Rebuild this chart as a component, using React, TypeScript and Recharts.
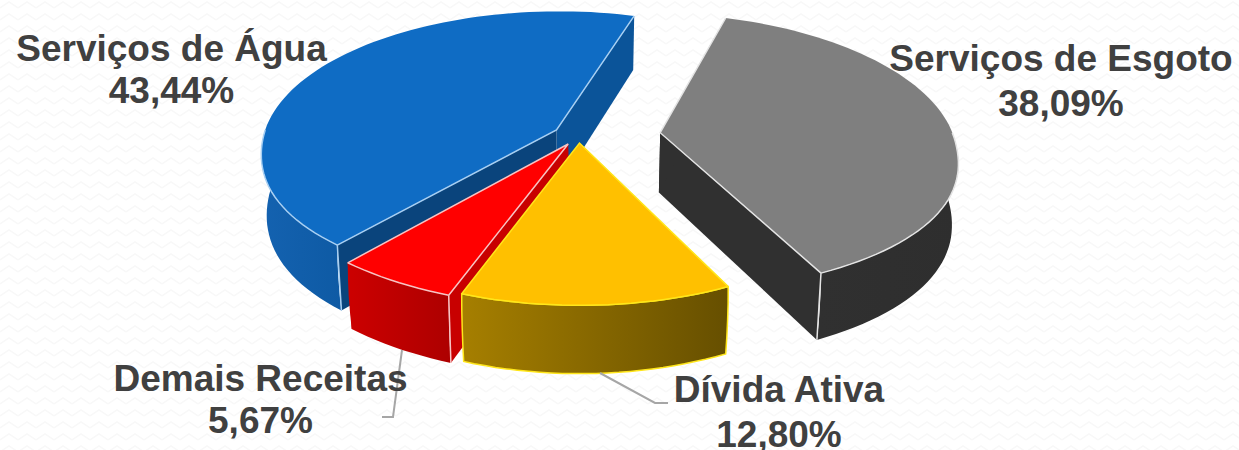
import { PieChart, Pie } from "recharts"

const names = ["Serviços de Água", "Demais Receitas", "Dívida Ativa", "Serviços de Esgoto"]
const values = [43.44, 5.67, 12.8, 38.09]
const data = names.map((name, i) => ({ name, value: values[i] }))

// how far each slice is pulled out of the pie, in radii
const explode = [0.087, 0.07, 0.053, 0.28]

const looks = [
  { top: "#0f6cc4", edge: "#a8cff2", wallA: "#1462b0", wallB: "#0e5aa4", startSide: "#0b5499", endSide: "#0a447c", corner: "end" },
  { top: "#ff0000", edge: "#f7c4c4", wallA: "#cc0000", wallB: "#ad0000", startSide: "#c80000", endSide: "#c80000", corner: "end" },
  { top: "#ffc000", edge: "#ffe61a", wallA: "#a67f00", wallB: "#664f00", startSide: "#a67f00", endSide: "#a67f00", corner: "none" },
  { top: "#7f7f7f", edge: "#e4e4e4", wallA: "#303030", wallB: "#2e2e2e", startSide: "#303030", endSide: "#303030", corner: "start" },
]

const labelSpots = [
  { x: 171.5, y: 60.5, gap: 42 },
  { x: 260.5, y: 391, gap: 42 },
  { x: 779, y: 402, gap: 44.5 },
  { x: 1061, y: 71, gap: 45 },
]
const leaders = [
  null,
  "402,350 393,417 382,417",
  "600,373 655,403 668,403",
  null,
]

const TILT = 0.4676
const PERSPECTIVE = 0.142
const DEPTH = 60
const BULGE = 0.018
const RAD = Math.PI / 180

function Slice(props: any) {
  const { cx, cy, outerRadius: r, startAngle, endAngle, index } = props
  const look = looks[index]
  const mid = ((startAngle + endAngle) / 2) * RAD
  const ox = Math.cos(mid) * explode[index]
  const oy = -Math.sin(mid) * explode[index]

  const project = (x: number, y: number, z: number) => {
    const p = 1 / (1 - PERSPECTIVE * y)
    const front = Math.max(0, Math.min(1, y))
    const bulge = 1 + BULGE * 6.75 * front * front * (1 - front)
    const sx = cx + r * x * p * bulge * (1 - 0.017 * z * z)
    const sy = cy + r * TILT * y * p + DEPTH * Math.pow(p, 0.8) * z
    return `${sx.toFixed(1)},${sy.toFixed(1)}`
  }
  const rim = (deg: number, z: number) => project(ox + Math.cos(deg * RAD), oy - Math.sin(deg * RAD), z)
  const apex = (z: number) => project(ox, oy, z)
  const arc = (from: number, to: number, z: number) => {
    const pts: string[] = []
    const steps = Math.max(2, Math.ceil(Math.abs(to - from) / 2))
    for (let i = 0; i <= steps; i++) pts.push(rim(from + ((to - from) * i) / steps, z))
    return pts
  }

  const wallFrom = Math.max(startAngle, 180)
  const wallTo = Math.min(endAngle, 360)
  // the wall's silhouette bows outward where it leaves the top face
  const bow = [0.25, 0.5, 0.75]
  const wallPts = [
    ...arc(wallFrom, wallTo, 0),
    ...bow.map((z) => rim(wallTo, z)),
    ...arc(wallTo, wallFrom, 1),
    ...[...bow].reverse().map((z) => rim(wallFrom, z)),
  ].join(" ")
  const gradId = `wall-${index}`
  const xs = wallPts.split(" ").map((s) => parseFloat(s))
  const cornerAngle = look.corner === "start" ? startAngle : endAngle
  const isYellow = look.corner === "none"

  return (
    <g>
      <defs>
        <linearGradient id={gradId} gradientUnits="userSpaceOnUse" x1={Math.min(...xs)} x2={Math.max(...xs)} y1={0} y2={0}>
          <stop offset="0%" stopColor={look.wallA} />
          <stop offset="100%" stopColor={look.wallB} />
        </linearGradient>
      </defs>
      <polygon points={[apex(0), rim(startAngle, 0), rim(startAngle, 1), apex(1)].join(" ")} fill={look.startSide} />
      <polygon points={[apex(0), rim(endAngle, 0), rim(endAngle, 1), apex(1)].join(" ")} fill={look.endSide} />
      <polygon
        points={wallPts}
        fill={`url(#${gradId})`}
        stroke={isYellow ? look.edge : "none"}
        strokeWidth={isYellow ? 1.5 : 0}
      />
      <polygon points={[apex(0), ...arc(startAngle, endAngle, 0)].join(" ")} fill={look.top} />
      <polyline points={[rim(startAngle, 0), apex(0), rim(endAngle, 0)].join(" ")} fill="none" stroke={look.edge} strokeWidth={1.5} />
      <polyline points={arc(wallFrom, wallTo, 0).join(" ")} fill="none" stroke={look.edge} strokeWidth={1.5} />
      {look.corner !== "none" && (
        <polyline points={[rim(cornerAngle, 0), rim(cornerAngle, 1)].join(" ")} fill="none" stroke={look.edge} strokeWidth={1.5} />
      )}
    </g>
  )
}

function SliceLabel(props: any) {
  const { index, name, value } = props
  const spot = labelSpots[index]
  const leader = leaders[index]
  const pct = `${Number(value).toFixed(2).replace(".", ",")}%`
  return (
    <g>
      {leader && <polyline points={leader} fill="none" stroke="#a6a6a6" strokeWidth={2} />}
      <text
        textAnchor="middle"
        fill="#404040"
        fontFamily="'Liberation Sans', Arial, sans-serif"
        fontWeight="bold"
        fontSize={37}
      >
        <tspan x={spot.x} y={spot.y}>{name}</tspan>
        <tspan x={spot.x} y={spot.y + spot.gap}>{pct}</tspan>
      </text>
    </g>
  )
}

const backdrop =
  "url(\"data:image/svg+xml,%3Csvg xmlns='http://www.w3.org/2000/svg' width='18' height='12'%3E%3Cpath d='M0 8 L9 2 L18 8' fill='none' stroke='%23f8f8f8' stroke-width='1.5'/%3E%3C/svg%3E\")"

export default function App() {
  return (
    <div style={{ position: "absolute", left: 0, top: 0, width: 1239, height: 450, overflow: "hidden", backgroundColor: "#ffffff", backgroundImage: backdrop }}>
      <PieChart width={1239} height={450} margin={{ top: 0, right: 0, bottom: 0, left: 0 }}>
        <Pie
          data={data}
          dataKey="value"
          nameKey="name"
          cx={578.7}
          cy={135.7}
          outerRadius={293}
          startAngle={73}
          endAngle={433}
          stroke="none"
          shape={Slice}
          label={SliceLabel}
          labelLine={false}
          isAnimationActive={false}
        />
      </PieChart>
    </div>
  )
}
